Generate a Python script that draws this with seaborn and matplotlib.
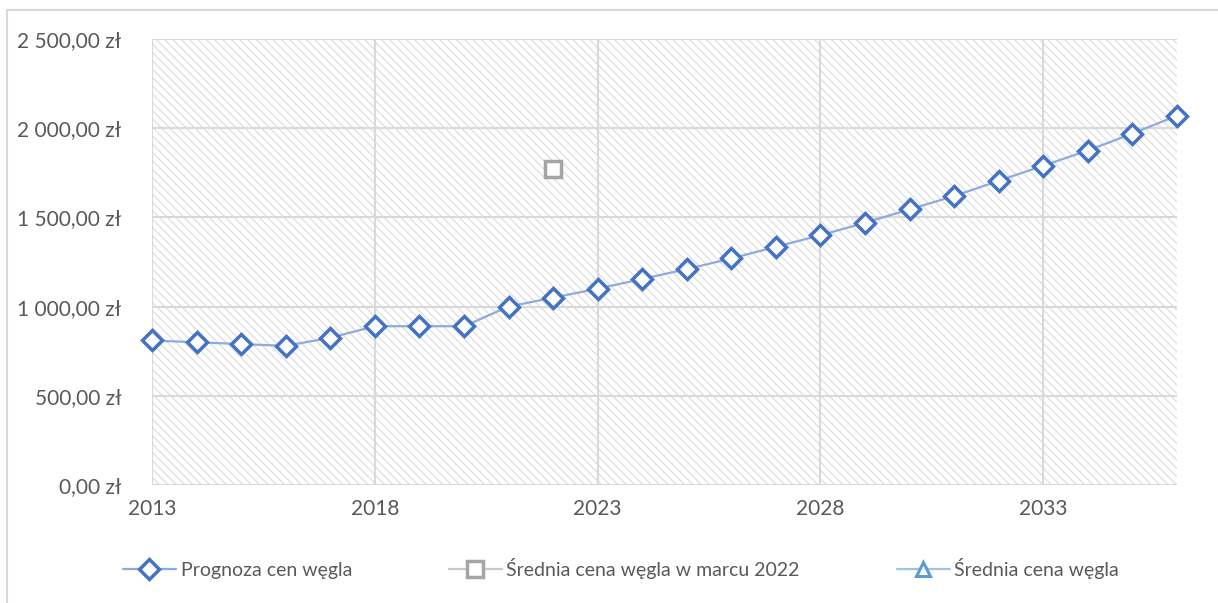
import matplotlib
matplotlib.use('Agg')
import matplotlib.pyplot as plt
from matplotlib.patches import Rectangle
from matplotlib.lines import Line2D
from matplotlib.ticker import FuncFormatter
import seaborn as sns
import pandas as pd

# data
years = list(range(2013, 2037))
prognoza = [810, 800, 790, 780, 825, 890, 890, 890, 1000, 1050, 1100, 1155,
            1210, 1270, 1335, 1400, 1470, 1545, 1620, 1705, 1790, 1875, 1970, 2070]
marzec_year = [2022]
marzec_cena = [1770]
srednia_year = []
srednia_cena = []

sns.set_style('white')
plt.rcParams['font.family'] = ['Lato', 'DejaVu Sans']
plt.rcParams['hatch.color'] = '#dedede'
plt.rcParams['hatch.linewidth'] = 0.9

fig = plt.figure(figsize=(12.18, 6.03), dpi=100)
ax = fig.add_axes([152 / 1218, 1 - 485 / 603, (1177 - 152) / 1218, (485 - 39) / 603])

# hatched plot area
ax.add_patch(Rectangle((0, 0), 1, 1, transform=ax.transAxes, facecolor='white',
                       edgecolor='#dedede', hatch='\\\\\\\\', linewidth=0, zorder=0))

df = pd.DataFrame({'rok': years, 'cena': prognoza})
sns.lineplot(data=df, x='rok', y='cena', ax=ax, color='#8faadc', linewidth=1.6,
             marker='D', markersize=10, markerfacecolor='white',
             markeredgecolor='#4472c4', markeredgewidth=2.5, zorder=3, clip_on=False)
ax.plot(marzec_year, marzec_cena, color='#c9c9c9', linewidth=1.6, marker='s',
        markersize=12, markerfacecolor='white', markeredgecolor='#a5a5a5',
        markeredgewidth=2.5, zorder=3)
ax.plot(srednia_year, srednia_cena, color='#9dc3e6', linewidth=1.6, marker='^',
        markersize=10, markerfacecolor='white', markeredgecolor='#5b9bd5',
        markeredgewidth=2.2)

ax.set_xlim(2013, 2036)
ax.set_ylim(0, 2500)
ax.set_xticks(range(2013, 2036, 5))
ax.set_yticks(range(0, 2501, 500))
ax.yaxis.set_major_formatter(FuncFormatter(
    lambda v, p: f'{v:,.2f}'.replace(',', ' ').replace('.', ',') + ' zł'))
ax.grid(True, color='#d9d9d9', linewidth=1.5, zorder=1)
ax.set_axisbelow(True)
for s in ax.spines.values():
    s.set_visible(False)
ax.tick_params(axis='both', length=0, labelsize=15, colors='#595959')
ax.tick_params(axis='y', pad=22)
ax.tick_params(axis='x', pad=10)
ax.set_xlabel('')
ax.set_ylabel('')

handles = [
    Line2D([], [], color='#8faadc', linewidth=1.6, marker='D', markersize=10,
           markerfacecolor='white', markeredgecolor='#4472c4', markeredgewidth=2.5),
    Line2D([], [], color='#c9c9c9', linewidth=1.6, marker='s', markersize=11,
           markerfacecolor='white', markeredgecolor='#a5a5a5', markeredgewidth=2.5),
    Line2D([], [], color='#9dc3e6', linewidth=1.6, marker='^', markersize=10,
           markerfacecolor='white', markeredgecolor='#5b9bd5', markeredgewidth=2.2),
]
labels = ['Prognoza cen węgla', 'Średnia cena węgla w marcu 2022', 'Średnia cena węgla']
leg = fig.legend(handles, labels, loc='center', bbox_to_anchor=(0.51, 0.058), ncol=3,
                 frameon=False, fontsize=14, handlelength=2.7, handletextpad=0.25,
                 columnspacing=5.0)
for t in leg.get_texts():
    t.set_color('#595959')

# outer chart border (cropped on the right and bottom)
fig.add_artist(Line2D([7 / 1218, 7 / 1218], [0, 1 - 9.5 / 603], color='#d9d9d9',
                      linewidth=1.5, transform=fig.transFigure))
fig.add_artist(Line2D([7 / 1218, 1], [1 - 9.5 / 603, 1 - 9.5 / 603], color='#d9d9d9',
                      linewidth=1.5, transform=fig.transFigure))

fig.savefig('out.png', dpi=100)
